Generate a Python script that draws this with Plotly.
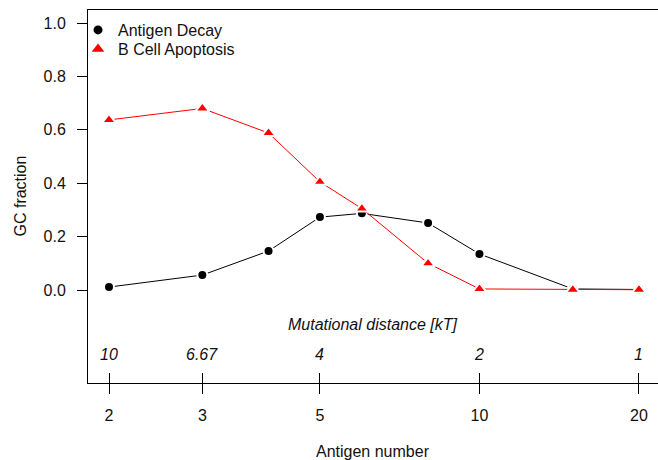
import plotly.graph_objects as go
import math

antigen_number = [2, 3, 4, 5, 6, 8, 10, 15, 20]
antigen_decay = [0.011, 0.056, 0.146, 0.273, 0.287, 0.251, 0.135, 0.004, 0.002]
bcell_apoptosis = [0.637, 0.680, 0.588, 0.405, 0.305, 0.100, 0.004, 0.001, 0.001]

x_ticks = [2, 3, 5, 10, 20]
x_ticktext = ["2", "3", "5", "10", "20"]
dist_ticktext = ["10", "6.67", "4", "2", "1"]
y_ticks = [0.0, 0.2, 0.4, 0.6, 0.8, 1.0]
y_ticktext = ["0.0", "0.2", "0.4", "0.6", "0.8", "1.0"]

FONT = "Liberation Sans, Arial, sans-serif"
xr = [0.2614, 1.3369]
yr = [-0.3483, 1.0487]

fig = go.Figure()
fig.add_trace(go.Scatter(
    x=antigen_number, y=antigen_decay, mode="lines+markers",
    line=dict(color="black", width=1),
    marker=dict(symbol="circle", size=10, color="black", line=dict(color="white", width=2)),
    name="Antigen Decay", showlegend=False, xaxis="x", yaxis="y"))
fig.add_trace(go.Scatter(
    x=antigen_number, y=bcell_apoptosis, mode="lines+markers",
    line=dict(color="red", width=1),
    marker=dict(symbol="triangle-up", size=12, color="red", line=dict(color="white", width=2)),
    name="B Cell Apoptosis", showlegend=False, xaxis="x2", yaxis="y"))
# legend entries
fig.add_trace(go.Scatter(x=[None], y=[None], mode="markers", legend="legend",
    marker=dict(symbol="circle", size=9, color="black"), name="Antigen Decay"))
fig.add_trace(go.Scatter(x=[None], y=[None], mode="markers", legend="legend2",
    marker=dict(symbol="triangle-up", size=11, color="red"), name="B Cell Apoptosis"))

annotations = [
    dict(text="<i>Mutational distance [kT]</i>", x=0.5, xref="paper", y=-0.131, yref="y",
         showarrow=False, font=dict(size=16, family=FONT, color="#111"), xanchor="center", yanchor="middle"),
    dict(text="Antigen number", x=0.5, xref="paper", y=-(452 - 383) / 373, yref="paper",
         showarrow=False, font=dict(size=16, family=FONT, color="#111"), xanchor="center", yanchor="middle"),
    dict(text="GC fraction", x=-(88 - 20) / 570, xref="paper", y=0.5, yref="paper", textangle=-90,
         showarrow=False, font=dict(size=16, family=FONT, color="#111"), xanchor="center", yanchor="middle"),
]
for tv, tt in zip(x_ticks, dist_ticktext):
    annotations.append(dict(text=f"<i>{tt}</i>", x=math.log10(tv), xref="x", y=-0.243, yref="y",
                            showarrow=False, font=dict(size=16, family=FONT, color="#111"),
                            xanchor="center", yanchor="middle"))

legend_style = dict(xanchor="left", yanchor="top", bgcolor="rgba(0,0,0,0)",
                    font=dict(size=16, family=FONT, color="#111"), itemwidth=30)

fig.update_layout(
    width=658, height=460, autosize=False,
    margin=dict(l=88, r=0, t=10, b=77),
    paper_bgcolor="white", plot_bgcolor="white",
    font=dict(family=FONT, size=16, color="#111"),
    xaxis=dict(type="log", range=xr, tickvals=x_ticks, ticktext=x_ticktext,
               ticks="outside", ticklen=10, tickcolor="black", tickwidth=1,
               showgrid=False, zeroline=False, showline=True, linecolor="black", linewidth=1,
               mirror=True, ticklabelstandoff=8, tickfont=dict(size=16, family=FONT, color="#111")),
    xaxis2=dict(type="log", range=xr, overlaying="x", anchor="y", side="bottom",
                tickvals=x_ticks, ticks="inside", ticklen=10, tickcolor="black", tickwidth=1,
                showticklabels=False, showgrid=False, zeroline=False, showline=False),
    yaxis=dict(range=yr, tickvals=y_ticks, ticktext=y_ticktext,
               ticks="outside", ticklen=10, tickcolor="black", tickwidth=1,
               showgrid=False, zeroline=False, showline=True, linecolor="black", linewidth=1,
               ticklabelstandoff=8, tickfont=dict(size=16, family=FONT, color="#111")),
    legend=dict(x=-0.0175, y=0.992, **legend_style),
    legend2=dict(x=-0.0175, y=0.941, **legend_style),
    annotations=annotations,
)
fig.write_html("out.html")
